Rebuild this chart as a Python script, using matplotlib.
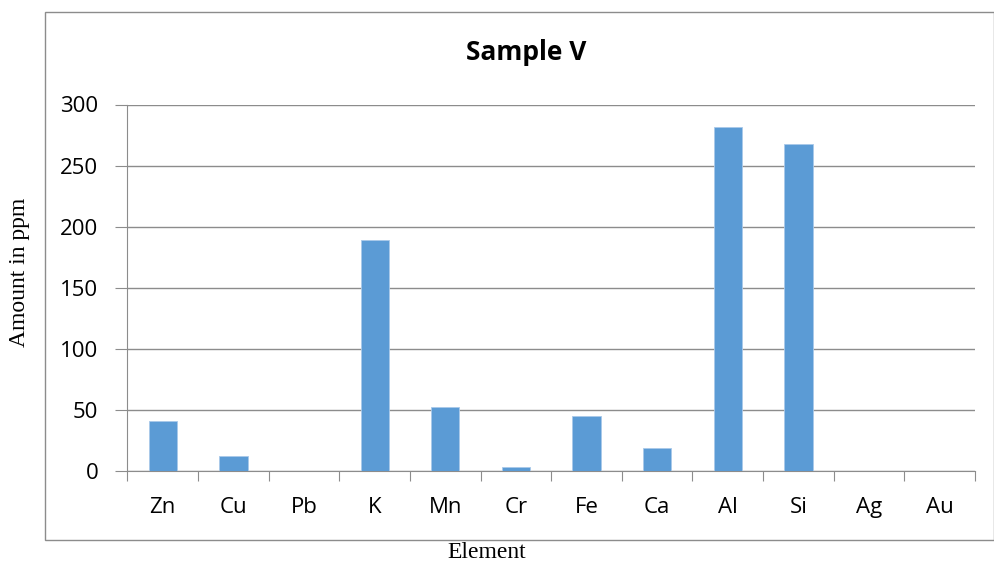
import matplotlib.pyplot as plt
from matplotlib.patches import Rectangle

# values
elements = ["Zn", "Cu", "Pb", "K", "Mn", "Cr", "Fe", "Ca", "Al", "Si", "Ag", "Au"]
amounts = [41, 12.5, 0, 189, 52.5, 3.3, 44.8, 18.6, 281.8, 267.7, 0, 0]
y_ticks = [0, 50, 100, 150, 200, 250, 300]

W, H = 995, 564
fig = plt.figure(figsize=(W / 100, H / 100), dpi=100)

# outer chart border
fig.patches.append(Rectangle((45 / W, 1 - 540 / H), (994 - 45) / W, (540 - 12) / H,
                             transform=fig.transFigure, fill=False,
                             edgecolor="#8c8c8c", linewidth=1.0))

ax = fig.add_axes([127.5 / W, 1 - 471 / H, (975 - 127.5) / W, (471 - 104.5) / H])

x = range(len(elements))
ax.bar(x, amounts, width=0.4, color="#5b9bd5", edgecolor="#a9c9ea", linewidth=0.6, zorder=3)

ax.set_xlim(-0.5, len(elements) - 0.5)
ax.set_ylim(0, 300)
ax.set_yticks(y_ticks)
ax.set_yticklabels([str(v) for v in y_ticks], fontsize=16, family="Open Sans")
ax.yaxis.grid(True, color="#8c8c8c", linewidth=1.0, zorder=0)

# category separators as major ticks, names as minor tick labels
ax.set_xticks([i + 0.5 for i in range(-1, len(elements))], minor=False)
ax.set_xticklabels([])
ax.set_xticks(list(x), minor=True)
ax.set_xticklabels(elements, minor=True, fontsize=16, family="Open Sans")
ax.tick_params(axis="x", which="major", length=7, color="#8c8c8c", direction="out")
ax.tick_params(axis="x", which="minor", length=0, pad=19)
ax.tick_params(axis="y", length=9, color="#8c8c8c", pad=12)

for side in ["top", "right"]:
    ax.spines[side].set_visible(False)
ax.spines["left"].set_color("#8c8c8c")
ax.spines["bottom"].set_color("#8c8c8c")

fig.text(526 / W, 1 - 53 / H, "Sample V", ha="center", va="center",
         fontsize=19, fontweight="bold", family="Open Sans")
fig.text(20 / W, 1 - 272 / H, "Amount in ppm", ha="center", va="center",
         rotation=90, fontsize=17, family="Liberation Serif")
fig.text(487 / W, 1 - 553 / H, "Element", ha="center", va="center",
         fontsize=17, family="Liberation Serif")

fig.savefig("out.png", dpi=100)
